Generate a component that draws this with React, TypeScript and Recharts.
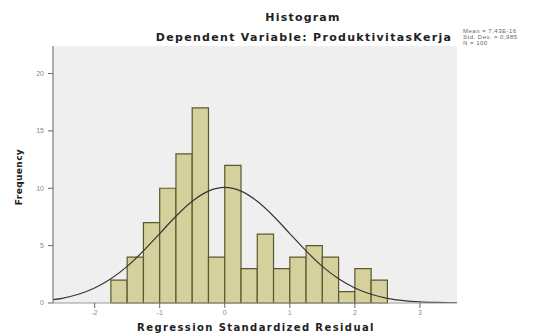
import { ComposedChart, Line, XAxis, YAxis, CartesianGrid, ReferenceArea } from "recharts";

// histogram bins (edges) and counts
const binEdges = [-1.75, -1.5, -1.25, -1, -0.75, -0.5, -0.25, 0, 0.25, 0.5, 0.75, 1, 1.25, 1.5, 1.75, 2, 2.25, 2.5];
const counts = [2, 4, 7, 10, 13, 17, 4, 12, 3, 6, 3, 4, 5, 4, 1, 3, 2];

// normal curve
const curveX = [-2.64, -2.5, -2.25, -2, -1.75, -1.5, -1.25, -1, -0.75, -0.5, -0.25, 0, 0.25, 0.5, 0.75, 1, 1.25, 1.5, 1.75, 2, 2.25, 2.5, 2.75, 3, 3.25, 3.57];
const curveY = [0.29, 0.41, 0.76, 1.31, 2.11, 3.19, 4.54, 6.05, 7.56, 8.86, 9.75, 10.07, 9.75, 8.86, 7.56, 6.05, 4.54, 3.19, 2.11, 1.31, 0.76, 0.41, 0.21, 0.1, 0.05, 0.02];

const xTicks = [-2, -1, 0, 1, 2, 3];
const yTicks = [0, 5, 10, 15, 20];
const xDomain = [-2.64, 3.57];
const yDomain = [0, 22.4];

const statLines = ["Mean = 7,43E-16", "Std. Dev. = 0,985", "N = 100"];

const curve = curveX.map((x, i) => ({ x, y: curveY[i] }));

const frame = "#9a9a9a";
const tickStyle = { fontSize: 7, fill: "#8a8a8a", fontFamily: "Liberation Sans" };

export default function App() {
  return (
    <div style={{ position: "absolute", left: 0, top: 0, width: 546, height: 336, background: "#fff" }}>
      <ComposedChart width={546} height={336} data={curve} margin={{ top: 46, right: 89, bottom: 13, left: 28 }}>
        <CartesianGrid fill="#efefef" horizontal={false} vertical={false} />
        <XAxis
          dataKey="x"
          type="number"
          domain={xDomain}
          allowDataOverflow
          ticks={xTicks}
          height={20}
          tickSize={5}
          tickMargin={2}
          axisLine={{ stroke: frame }}
          tickLine={{ stroke: "#666" }}
          tick={tickStyle}
        />
        <XAxis xAxisId="t" orientation="top" type="number" domain={xDomain} allowDataOverflow height={0} tick={false} tickLine={false} axisLine={{ stroke: frame }} />
        <YAxis
          type="number"
          domain={yDomain}
          allowDataOverflow
          ticks={yTicks}
          width={25}
          tickSize={5}
          tickMargin={4}
          axisLine={{ stroke: "#666" }}
          tickLine={{ stroke: "#666" }}
          tick={tickStyle}
        />
        <YAxis yAxisId="r" orientation="right" type="number" domain={yDomain} width={0} tick={false} tickLine={false} axisLine={{ stroke: frame }} />
        {counts.map((c, i) => (
          <ReferenceArea
            key={i}
            x1={binEdges[i]}
            x2={binEdges[i + 1]}
            y1={0}
            y2={c}
            fill="#d5d09c"
            fillOpacity={1}
            stroke="#5a5830"
            strokeWidth={1.2}
          />
        ))}
        <Line dataKey="y" type="monotone" stroke="#363636" strokeWidth={1.2} dot={false} isAnimationActive={false} />
      </ComposedChart>
      <svg width={546} height={336} style={{ position: "absolute", left: 0, top: 0, pointerEvents: "none" }}>
        <g fontFamily="DejaVu Sans" fontWeight="bold" fill="#222">
          <text x={303} y={21} fontSize={11} textAnchor="middle" letterSpacing={1.2}>Histogram</text>
          <text x={304} y={41} fontSize={11} textAnchor="middle" letterSpacing={1.3}>Dependent Variable: ProduktivitasKerja</text>
          <text x={256} y={331} fontSize={10} textAnchor="middle" letterSpacing={1.4}>Regression Standardized Residual</text>
          <text x={22} y={177} fontSize={9} textAnchor="middle" letterSpacing={0.4} transform="rotate(-90 22 177)">Frequency</text>
        </g>
        <g fontFamily="Liberation Sans" fontSize={6} fill="#666" letterSpacing={0.5}>
          {statLines.map((s, i) => (
            <text key={s} x={463} y={33 + i * 5.8}>{s}</text>
          ))}
        </g>
      </svg>
    </div>
  );
}
